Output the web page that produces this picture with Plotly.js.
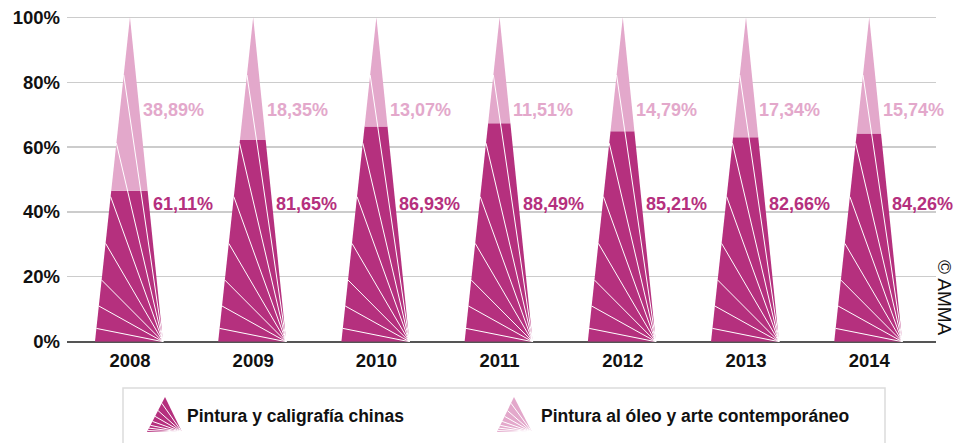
<!DOCTYPE html>
<html>
<head>
<meta charset="utf-8">
<script src="https://cdn.plot.ly/plotly-3.0.1.min.js"></script>
<style>html,body{margin:0;padding:0;background:#fff;}#chart{width:961px;height:443px;}</style>
</head>
<body>
<div id="chart"></div>
<script>
// ---- data ----
const years = ['2008', '2009', '2010', '2011', '2012', '2013', '2014'];
const chinesePct = [61.11, 81.65, 86.93, 88.49, 85.21, 82.66, 84.26];
const oilPct = [38.89, 18.35, 13.07, 11.51, 14.79, 17.34, 15.74];
// height (on the % axis) where the dark part of each pyramid ends, as drawn
const darkHeight = [46.5, 62.2, 66.3, 67.3, 64.9, 63.0, 64.2];
const yTickVals = [0, 20, 40, 60, 80, 100];
const yTickText = ['0%', '20%', '40%', '60%', '80%', '100%'];
const seriesNames = ['Pintura y caligrafía chinas', 'Pintura al óleo y arte contemporáneo'];
const credit = '© AMMA';

// ---- style ----
const DARK = '#b5307e';
const LIGHT = '#e3a8cb';
const FONT = '"Liberation Sans", Arial, sans-serif';
const W = 961, H = 443;
const HL = 0.284, HR = 0.268;            // half widths of the pyramid base (category units)
const fan = [0.041, 0.11, 0.19, 0.303, 0.447, 0.612, 0.822];

const fmt = v => v.toFixed(2).replace('.', ',') + '%';
const traces = [];
years.forEach((yr, i) => {
  const h = darkHeight[i];
  const k = 1 - h / 100;
  traces.push({
    type: 'scatter', mode: 'lines', fill: 'toself', fillcolor: DARK,
    line: {width: 0, color: DARK}, hoverinfo: 'skip', showlegend: false,
    x: [i - HL, i + HR, i + HR * k, i - HL * k, i - HL],
    y: [0, 0, h, h, 0]
  });
  traces.push({
    type: 'scatter', mode: 'lines', fill: 'toself', fillcolor: LIGHT,
    line: {width: 0, color: LIGHT}, hoverinfo: 'skip', showlegend: false,
    x: [i - HL * k, i + HR * k, i, i - HL * k],
    y: [h, h, 100, h]
  });
});
const fx = [], fy = [];
years.forEach((yr, i) => {
  fan.forEach(f => {
    fx.push(i + HR, i - HL * (1 - f), null);
    fy.push(0, f * 100, null);
  });
});
traces.push({type: 'scatter', mode: 'lines', x: fx, y: fy, line: {color: '#ffffff', width: 1},
  hoverinfo: 'skip', showlegend: false, cliponaxis: true});

// ---- annotations ----
const ann = [];
years.forEach((yr, i) => {
  ann.push({xref: 'x', yref: 'y', x: i + 0.101, y: 71.4, xanchor: 'left', yanchor: 'middle',
    text: fmt(oilPct[i]), showarrow: false, borderpad: 0,
    font: {family: FONT, size: 18, color: LIGHT, weight: 700}});
  ann.push({xref: 'x', yref: 'y', x: i + 0.179, y: 42.4, xanchor: 'left', yanchor: 'middle',
    text: fmt(chinesePct[i]), showarrow: false, borderpad: 0,
    font: {family: FONT, size: 18, color: DARK, weight: 700}});
});
const px = x => x / W, py = y => (H - y) / H;
ann.push({xref: 'paper', yref: 'paper', x: px(945), y: py(298), text: credit, textangle: 90,
  showarrow: false, xanchor: 'center', yanchor: 'middle',
  font: {family: FONT, size: 19, color: '#111'}});
ann.push({xref: 'paper', yref: 'paper', x: px(186), y: py(416), text: seriesNames[0],
  showarrow: false, xanchor: 'left', yanchor: 'middle', borderpad: 0,
  font: {family: FONT, size: 17.5, color: '#111', weight: 700}});
ann.push({xref: 'paper', yref: 'paper', x: px(540), y: py(416), text: seriesNames[1],
  showarrow: false, xanchor: 'left', yanchor: 'middle', borderpad: 0,
  font: {family: FONT, size: 17.5, color: '#111', weight: 700}});

// ---- legend box & icons as shapes ----
const P = (x, y) => px(x) + ',' + py(y);
const shapes = [];
shapes.push({type: 'rect', xref: 'paper', yref: 'paper', layer: 'below',
  x0: px(123), x1: px(885), y0: py(470), y1: py(388),
  line: {color: '#dcdcdc', width: 1.5}, fillcolor: 'rgba(0,0,0,0)'});
function icon(x0, apx, x1, yTop, yBot, color) {
  shapes.push({type: 'path', xref: 'paper', yref: 'paper',
    path: 'M' + P(x0, yBot) + ' L' + P(apx, yTop) + ' L' + P(x1, yBot) + ' Z',
    fillcolor: color, line: {width: 0}});
  let d = '';
  fan.forEach(f => {
    const ex = x0 + (apx - x0) * f, ey = yBot - (yBot - yTop) * f;
    d += 'M' + P(x1, yBot) + ' L' + P(ex, ey) + ' ';
  });
  shapes.push({type: 'path', xref: 'paper', yref: 'paper', path: d,
    line: {color: '#ffffff', width: 1}});
}
icon(147, 165, 182, 397, 432, DARK);
icon(497, 514, 532, 397, 432, LIGHT);

const layout = {
  width: W, height: H,
  margin: {l: 0, r: 0, t: 0, b: 0},
  paper_bgcolor: '#ffffff', plot_bgcolor: '#ffffff',
  showlegend: false,
  xaxis: {
    domain: [67 / W, 936 / W],
    range: [-0.511, 6.542],
    tickmode: 'array', tickvals: years.map((y, i) => i), ticktext: years,
    showgrid: false, zeroline: false, showline: false, ticks: '',
    ticklabelstandoff: 6,
    tickfont: {family: FONT, size: 18.5, color: '#111', weight: 700},
    fixedrange: true
  },
  yaxis: {
    domain: [(H - 341.7) / H, (H - 10.8) / H],
    range: [0, 102],
    tickmode: 'array', tickvals: yTickVals, ticktext: yTickText,
    showgrid: true, gridcolor: '#cccccc', gridwidth: 1.3,
    zeroline: true, zerolinecolor: '#555555', zerolinewidth: 2,
    showline: false, ticks: '', ticklabelstandoff: 6,
    tickfont: {family: FONT, size: 18.5, color: '#111', weight: 700},
    fixedrange: true
  },
  annotations: ann,
  shapes: shapes
};
Plotly.newPlot('chart', traces, layout, {displayModeBar: false, staticPlot: true});
</script>
</body>
</html>
